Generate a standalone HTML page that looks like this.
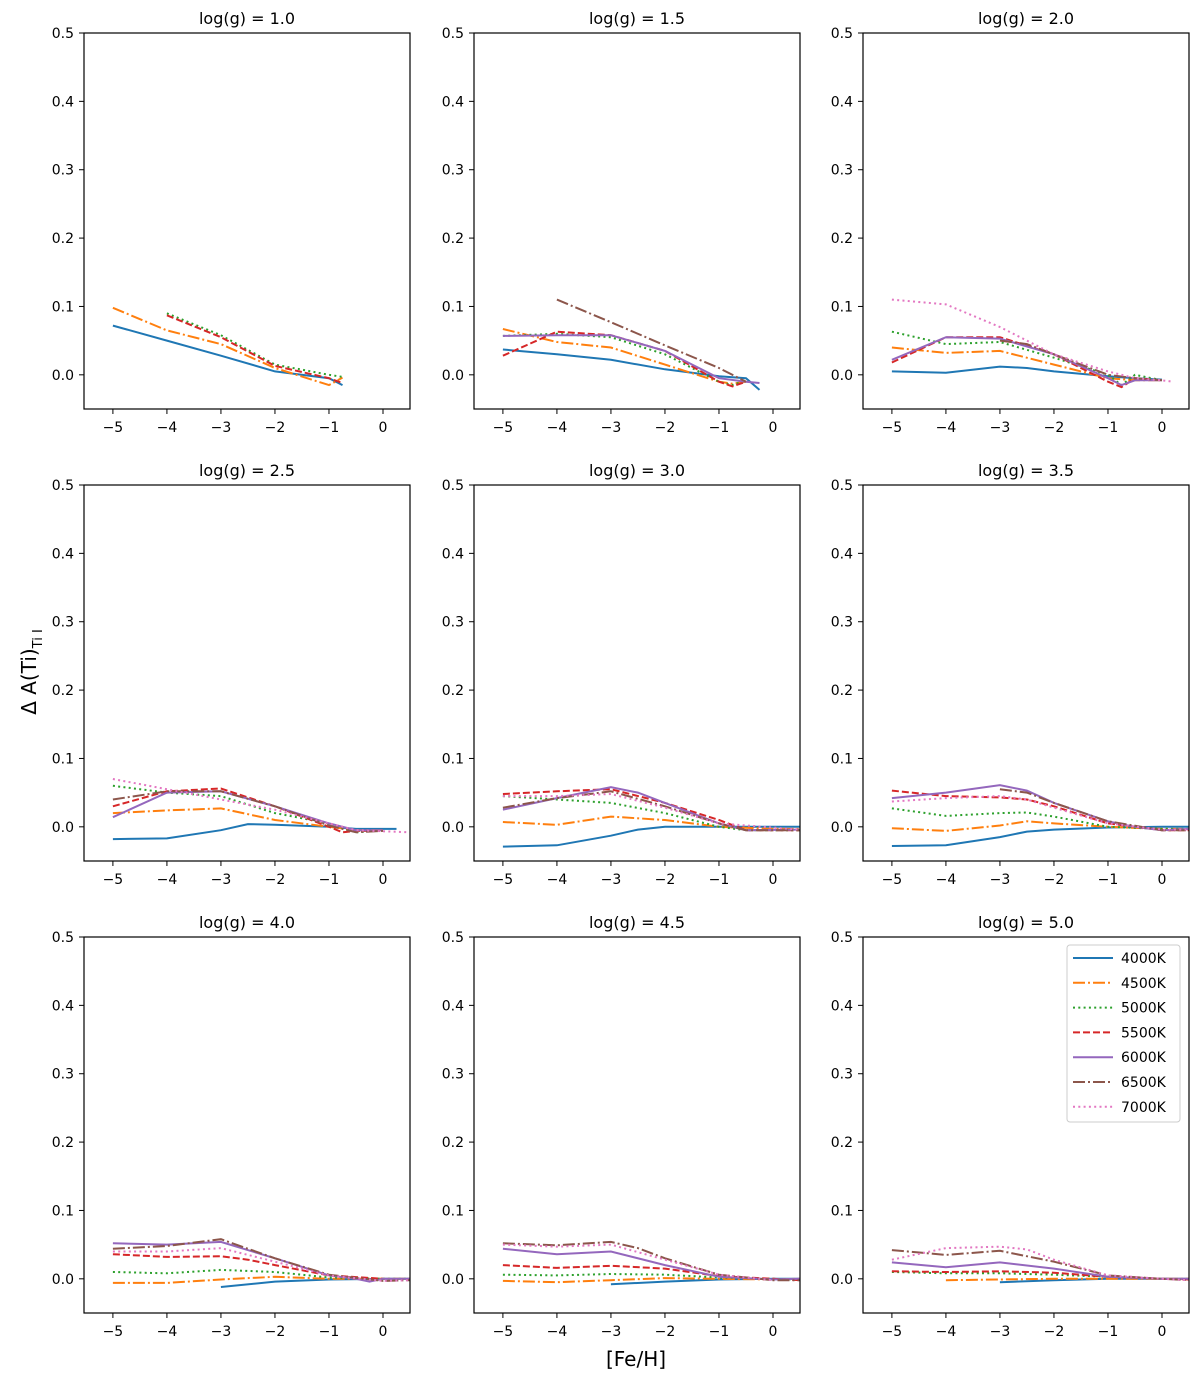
<!DOCTYPE html>
<html><head><meta charset="utf-8"><style>
body{margin:0;background:#fff}
svg text{font-family:"DejaVu Sans","Liberation Sans",sans-serif;fill:#000}
</style></head><body>
<svg id="fig" width="1200" height="1378" xmlns="http://www.w3.org/2000/svg"></svg>
<script>
const titles=["log(g) = 1.0","log(g) = 1.5","log(g) = 2.0","log(g) = 2.5","log(g) = 3.0","log(g) = 3.5","log(g) = 4.0","log(g) = 4.5","log(g) = 5.0"];
const temps=["4000K","4500K","5000K","5500K","6000K","6500K","7000K"];
const colors=["#1f77b4","#ff7f0e","#2ca02c","#d62728","#9467bd","#8c564b","#e377c2"];
const dashes=["","12,3,2,3","2,3.3","7,3","","12,3,2,3","2,3.3"];
const xTicks=[-5,-4,-3,-2,-1,0];
const yTicks=[0,0.1,0.2,0.3,0.4,0.5];
// panelData[panel][series] = list of [FeH, dA]
const panelData=[
[[[-5,.072],[-4,.05],[-3,.028],[-2,.005],[-1,-.005],[-.75,-.015]],
 [[-5,.098],[-4,.065],[-3,.045],[-2,.01],[-1,-.015],[-.75,-.004]],
 [[-4,.09],[-3,.058],[-2,.015],[-1,0],[-.75,-.003]],
 [[-4,.087],[-3,.055],[-2,.013],[-1,-.005],[-.75,-.012]],[],[],[]],
[[[-5,.037],[-4,.03],[-3,.022],[-2,.008],[-1,-.002],[-.5,-.005],[-.25,-.022]],
 [[-5,.067],[-4,.048],[-3,.04],[-2,.015],[-1,-.01],[-.75,-.013],[-.5,-.01]],
 [[-5,.057],[-4,.06],[-3,.055],[-2,.03],[-1,-.01],[-.75,-.015],[-.5,-.008]],
 [[-5,.028],[-4,.063],[-3,.058],[-2,.035],[-1,-.01],[-.75,-.017],[-.5,-.01]],
 [[-5,.057],[-4,.058],[-3,.058],[-2,.035],[-1,-.005],[-.5,-.01],[-.25,-.012]],
 [[-4,.11],[-3,.077],[-2,.043],[-1,.01],[-.5,-.01]],[]],
[[[-5,.005],[-4,.003],[-3,.012],[-2.5,.01],[-2,.005],[-1,-.002],[-.5,-.005],[0,-.007]],
 [[-5,.04],[-4,.032],[-3,.035],[-2,.015],[-1,-.005],[-.5,-.008],[0,-.008]],
 [[-5,.063],[-4,.045],[-3,.048],[-2,.025],[-1,0],[-.75,-.015],[-.5,0],[0,-.008]],
 [[-5,.018],[-4,.055],[-3,.055],[-2,.03],[-1,-.01],[-.75,-.018],[-.5,-.005],[0,-.008]],
 [[-5,.022],[-4,.055],[-3,.053],[-2,.03],[-1,-.005],[-.75,-.015],[-.5,-.008],[0,-.008]],
 [[-3,.05],[-2.5,.045],[-2,.03],[-1,0],[-.5,-.005],[0,-.008]],
 [[-5,.11],[-4,.103],[-3,.07],[-2,.03],[-1,.005],[-.5,-.005],[0,-.008],[.2,-.01]]],
[[[-5,-.018],[-4,-.017],[-3,-.005],[-2.5,.004],[-2,.003],[-1,0],[-.5,-.003],[.25,-.003]],
 [[-5,.02],[-4,.024],[-3,.027],[-2,.01],[-1,0],[-.5,-.005],[0,-.005]],
 [[-5,.06],[-4,.05],[-3,.045],[-2,.02],[-1,.005],[-.5,-.008],[0,-.005]],
 [[-5,.03],[-4,.052],[-3,.056],[-2,.03],[-1,0],[-.75,-.008],[-.5,-.006],[0,-.006]],
 [[-5,.014],[-4,.05],[-3,.052],[-2,.03],[-1,.005],[-.5,-.005],[0,-.005]],
 [[-5,.04],[-4,.052],[-3,.052],[-2,.03],[-1,.002],[-.5,-.008],[0,-.006]],
 [[-5,.07],[-4,.055],[-3,.04],[-2,.025],[-1,.005],[-.5,-.005],[.5,-.008]]],
[[[-5,-.029],[-4,-.027],[-3,-.013],[-2.5,-.004],[-2,0],[-1,0],[0,0],[.5,0]],
 [[-5,.007],[-4,.003],[-3,.015],[-2,.01],[-1,0],[0,-.003],[.5,-.003]],
 [[-5,.045],[-4,.04],[-3,.035],[-2,.02],[-1,0],[-.5,-.005],[.5,-.005]],
 [[-5,.048],[-4,.052],[-3,.055],[-2,.035],[-1,.01],[-.5,-.005],[.5,-.005]],
 [[-5,.025],[-4,.042],[-3,.058],[-2.5,.05],[-2,.035],[-1,.005],[-.5,-.005],[.5,-.004]],
 [[-5,.028],[-4,.042],[-3,.052],[-2,.03],[-1,.005],[-.5,-.005],[.5,-.005]],
 [[-5,.045],[-4,.045],[-3,.048],[-2,.028],[-1,.005],[.5,-.004]]],
[[[-5,-.028],[-4,-.027],[-3,-.015],[-2.5,-.007],[-2,-.004],[-1,-.001],[0,0],[.5,0]],
 [[-5,-.002],[-4,-.006],[-3,.002],[-2.5,.008],[-2,.005],[-1,0],[0,-.003],[.5,-.003]],
 [[-5,.027],[-4,.016],[-3,.02],[-2.5,.021],[-2,.015],[-1,0],[0,-.003],[.5,-.003]],
 [[-5,.053],[-4,.045],[-3,.043],[-2.5,.04],[-2,.03],[-1,.005],[0,-.005],[.5,-.005]],
 [[-5,.042],[-4,.05],[-3,.061],[-2.5,.053],[-2,.035],[-1,.008],[-.5,0],[0,-.005],[.5,-.003]],
 [[-3,.055],[-2.5,.05],[-2,.035],[-1,.008],[0,-.005],[.5,-.005]],
 [[-5,.037],[-4,.042],[-3,.045],[-2.5,.04],[-2,.028],[-1,.005],[0,-.004],[.5,-.004]]],
[[[-3,-.012],[-2,-.004],[-1,-.001],[0,0],[.5,0]],
 [[-5,-.006],[-4,-.006],[-3,-.001],[-2,.003],[-1,0],[0,0],[.5,0]],
 [[-5,.01],[-4,.008],[-3,.013],[-2,.01],[-1,.002],[0,0],[.5,0]],
 [[-5,.036],[-4,.032],[-3,.033],[-2.5,.028],[-2,.02],[-1,.005],[0,0]],
 [[-5,.052],[-4,.05],[-3,.054],[-2,.03],[-1,.005],[-.5,0],[-.25,-.004],[0,0],[.5,0]],
 [[-5,.044],[-4,.048],[-3,.058],[-2,.03],[-1,.006],[0,-.003],[.5,-.002]],
 [[-5,.04],[-4,.04],[-3,.045],[-2,.025],[-1,.005],[0,-.003],[.5,-.002]]],
[[[-3,-.008],[-2,-.004],[-1,-.001],[0,0],[.5,0]],
 [[-5,-.003],[-4,-.005],[-3,-.002],[-2,.001],[-1,0],[0,-.001],[.5,0]],
 [[-5,.006],[-4,.005],[-3,.007],[-2,.006],[-1,.002],[0,0],[.5,-.001]],
 [[-5,.02],[-4,.016],[-3,.019],[-2,.015],[-1,.004],[0,0],[.5,-.002]],
 [[-5,.044],[-4,.036],[-3,.04],[-2,.02],[-1,.003],[0,-.001],[.5,0]],
 [[-5,.052],[-4,.049],[-3,.054],[-2.5,.045],[-2,.03],[-1,.006],[0,-.002],[.5,-.002]],
 [[-5,.05],[-4,.047],[-3,.05],[-2,.028],[-1,.006],[0,-.002]]],
[[[-3,-.005],[-2,-.002],[-1,0],[0,0],[.5,0]],
 [[-4,-.002],[-3,-.001],[-2,0],[-1,0],[0,0],[.5,0]],
 [[-5,.01],[-4,.008],[-3,.008],[-2,.006],[-1,.003],[0,0],[.5,-.001]],
 [[-5,.011],[-4,.01],[-3,.011],[-2,.009],[-1,.003],[0,0],[.5,-.001]],
 [[-5,.024],[-4,.017],[-3,.024],[-2,.015],[-1,.003],[0,0],[.5,0]],
 [[-5,.042],[-4,.035],[-3,.041],[-2,.025],[-1,.005],[0,0],[.5,-.002]],
 [[-5,.028],[-4,.045],[-3,.047],[-2.5,.043],[-2,.028],[-1,.005],[0,0],[.5,-.002]]]
];
const NS="http://www.w3.org/2000/svg";
const svg=document.getElementById('fig');
function mk(tag,attrs,parent,text){const e=document.createElementNS(NS,tag);for(const k in attrs)e.setAttribute(k,attrs[k]);if(text!==undefined)e.textContent=text;(parent||svg).appendChild(e);return e;}
const X0=[84,474,863],Y0=[33,485,937],W=326,H=376;
const xmin=-5.535,xmax=0.5,ymin=-0.05,ymax=0.5;
panelData.forEach((series,p)=>{
  const ox=X0[p%3],oy=Y0[Math.floor(p/3)];
  const sx=v=>ox+(v-xmin)/(xmax-xmin)*W;
  const sy=v=>oy+(ymax-v)/(ymax-ymin)*H;
  const g=mk('g',{});
  
  
  const cp=mk('clipPath',{id:'cp'+p},g);mk('rect',{x:ox,y:oy,width:W,height:H},cp);
  const t=mk('text',{x:ox+W/2,y:oy-9,'text-anchor':'middle','font-size':'16'},g,titles[p]);
  
  
  xTicks.forEach(v=>{const x=sx(v);mk('line',{x1:x,x2:x,y1:oy+H,y2:oy+H+5,stroke:'#000'},g);
    const l=mk('text',{x:x,y:oy+H+23,'text-anchor':'middle','font-size':'14'},g,v<0?'\u2212'+(-v):String(v));
    
    });
  yTicks.forEach(v=>{const y=sy(v);mk('line',{x1:ox-5,x2:ox,y1:y,y2:y,stroke:'#000'},g);
    const l=mk('text',{x:ox-10,y:y+5,'text-anchor':'end','font-size':'14'},g,v.toFixed(1));
    
    });
  const lg=mk('g',{'clip-path':'url(#cp'+p+')'},g);
  series.forEach((pts,i)=>{if(!pts.length)return;
    const path=mk('polyline',{points:pts.map(q=>sx(q[0]).toFixed(1)+','+sy(q[1]).toFixed(1)).join(' '),fill:'none',stroke:colors[i],'stroke-width':2,'stroke-dasharray':dashes[i]},lg);
    
    });
  mk('rect',{x:ox,y:oy,width:W,height:H,fill:'none',stroke:'#000','stroke-width':1.2},g);
});
const leg=mk('g',{});


mk('rect',{x:1067,y:945,width:113,height:177,rx:3,fill:'#fff',stroke:'#ccc'},leg);
temps.forEach((t,i)=>{const y=958+i*24.8;
  const e=mk('g',{},leg);
  
  
  mk('line',{x1:1073,x2:1113,y1:y,y2:y,stroke:colors[i],'stroke-width':2,'stroke-dasharray':dashes[i]},e);
  mk('text',{x:1121,y:y+5,'font-size':'14'},e,t);});
const xl=mk('text',{x:636,y:1366,'text-anchor':'middle','font-size':'20'},svg,'[Fe/H]');


const yl=mk('text',{x:0,y:0,'text-anchor':'middle','font-size':'20',transform:'translate(36,672) rotate(-90)'},svg);


yl.appendChild(document.createTextNode('\u0394 A(Ti)'));
const sub=mk('tspan',{'font-size':'13',dy:'6'},yl,'Ti I');
</script>
</body></html>
